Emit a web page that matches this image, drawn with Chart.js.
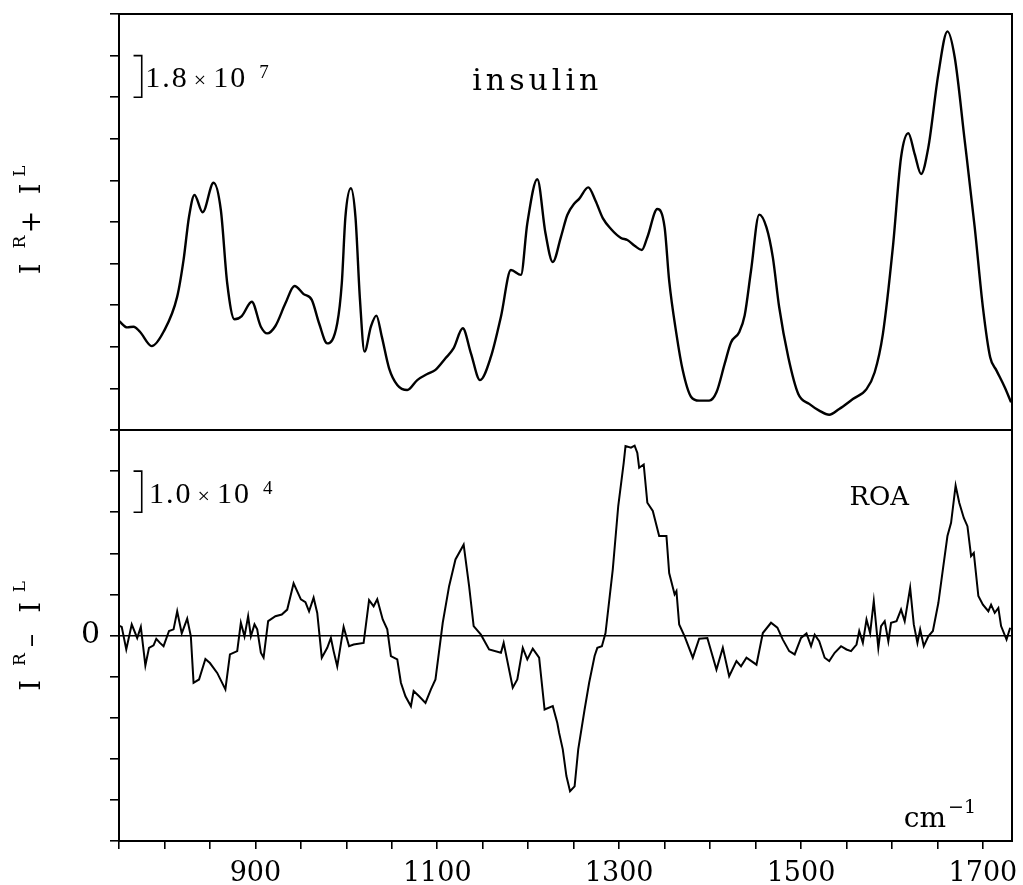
<!DOCTYPE html>
<html>
<head>
<meta charset="utf-8">
<title>insulin ROA</title>
<script src="https://cdn.jsdelivr.net/npm/chart.js@4.4.1/dist/chart.umd.min.js"></script>
<style>
html, body { margin: 0; padding: 0; background: #fff; }
canvas { display: block; }
</style>
</head>
<body>
<canvas id="roa" width="1023" height="885"></canvas>
<script>
// backscattered Raman I^R + I^L of insulin (units of 10^7)
var sumWavenumber = [750, 759, 766, 773, 786, 799, 814, 821, 827, 833, 842, 854, 862, 869, 877, 885, 896, 906, 913, 922,
  933, 943, 953, 962, 970, 979, 990, 995, 999, 1005, 1010, 1015, 1020, 1027, 1033, 1039, 1047, 1056, 1067, 1078,
  1089, 1098, 1109, 1118, 1128, 1137, 1147, 1159, 1170, 1181, 1192, 1199, 1210, 1219, 1227, 1236, 1243, 1251, 1256, 1266,
  1274, 1282, 1291, 1302, 1309, 1317, 1325, 1331, 1342, 1350, 1355, 1363, 1370, 1379, 1388, 1399, 1407, 1416, 1423, 1432,
  1438, 1445, 1454, 1462, 1469, 1476, 1486, 1497, 1509, 1520, 1531, 1542, 1557, 1572, 1581, 1590, 1601, 1610, 1618, 1625,
  1632, 1640, 1651, 1661, 1669, 1680, 1691, 1700, 1708, 1715, 1724, 1731];
var sumIntensity = [4.72, 4.44, 4.47, 4.25, 3.63, 4.25, 5.77, 7.36, 9.23, 10.17, 9.42, 10.70, 9.52, 6.35, 4.79, 4.93, 5.55, 4.47, 4.18, 4.50,
  5.48, 6.23, 5.88, 5.63, 4.62, 3.75, 4.62, 6.35, 9.23, 10.46, 9.23, 5.63, 3.39, 4.47, 4.95, 4.04, 2.67, 1.95, 1.73, 2.16,
  2.42, 2.60, 3.10, 3.54, 4.40, 3.32, 2.16, 3.17, 4.90, 6.92, 6.71, 8.94, 10.85, 8.51, 7.27, 8.36, 9.30, 9.81, 10.00, 10.50,
  9.92, 9.17, 8.70, 8.31, 8.22, 7.97, 7.79, 8.34, 9.56, 8.77, 6.46, 4.15, 2.57, 1.44, 1.27, 1.27, 1.63, 2.86, 3.79, 4.23,
  4.95, 6.89, 9.32, 8.77, 7.47, 5.31, 3.15, 1.56, 1.13, 0.84, 0.66, 0.91, 1.34, 1.77, 2.50, 4.15, 7.91, 11.80, 12.84, 11.94,
  11.08, 12.23, 15.40, 17.25, 16.13, 12.52, 8.77, 5.31, 3.15, 2.57, 1.85, 1.20];

// ROA I^R - I^L (units of 10^4)
var roaWavenumber = [750, 753, 758, 764, 770, 774, 779, 783, 788, 791, 795, 799, 805, 810, 814, 819, 825, 829, 832, 838,
  845, 850, 858, 867, 872, 880, 884, 888, 892, 895, 899, 902, 906, 909, 914, 922, 929, 935, 942, 950,
  955, 959, 964, 968, 973, 979, 983, 986, 990, 997, 1003, 1008, 1019, 1025, 1030, 1034, 1040, 1045, 1049, 1056,
  1060, 1065, 1071, 1074, 1080, 1087, 1093, 1098, 1106, 1113, 1120, 1129, 1135, 1140, 1148, 1157, 1170, 1173, 1183, 1188,
  1194, 1199, 1205, 1212, 1218, 1227, 1232, 1234, 1238, 1242, 1246, 1251, 1255, 1262, 1267, 1273, 1276, 1281, 1285, 1293,
  1299, 1305, 1307, 1313, 1317, 1320, 1322, 1327, 1331, 1337, 1344, 1352, 1355, 1361, 1363, 1366, 1372, 1381, 1388, 1397,
  1407, 1414, 1421, 1429, 1434, 1440, 1451, 1458, 1467, 1474, 1480, 1487, 1493, 1500, 1506, 1511, 1515, 1520, 1526, 1531,
  1537, 1544, 1550, 1555, 1561, 1564, 1568, 1572, 1576, 1580, 1585, 1588, 1592, 1596, 1599, 1605, 1610, 1614, 1620, 1624,
  1628, 1631, 1635, 1640, 1645, 1651, 1656, 1661, 1665, 1670, 1674, 1679, 1683, 1687, 1690, 1695, 1700, 1706, 1709, 1713,
  1717, 1720, 1726, 1730];
var roaIntensity = [0.24, 0.21, -0.34, 0.27, -0.06, 0.21, -0.73, -0.30, -0.24, -0.08, -0.18, -0.26, 0.11, 0.15, 0.59, 0.05, 0.41, -0.02, -1.15, -1.07,
  -0.57, -0.67, -0.91, -1.31, -0.46, -0.38, 0.31, -0.02, 0.47, -0.02, 0.27, 0.15, -0.42, -0.54, 0.35, 0.47, 0.51, 0.63, 1.27, 0.88,
  0.81, 0.59, 0.92, 0.55, -0.54, -0.30, -0.06, -0.38, -0.75, 0.21, -0.26, -0.22, -0.18, 0.86, 0.71, 0.88, 0.39, 0.15, -0.50, -0.58,
  -1.15, -1.48, -1.72, -1.35, -1.48, -1.64, -1.31, -1.07, 0.31, 1.20, 1.85, 2.21, 1.20, 0.23, 0.02, -0.34, -0.42, -0.18, -1.27, -1.07,
  -0.30, -0.58, -0.32, -0.54, -1.80, -1.72, -2.13, -2.37, -2.77, -3.42, -3.79, -3.67, -2.77, -1.80, -1.15, -0.50, -0.30, -0.26, 0.06, 1.61,
  3.15, 4.20, 4.61, 4.57, 4.62, 4.44, 4.08, 4.16, 3.23, 3.03, 2.42, 2.42, 1.52, 1.00, 1.08, 0.27, -0.02, -0.54, -0.08, -0.06,
  -0.83, -0.30, -0.99, -0.62, -0.75, -0.54, -0.71, 0.06, 0.31, 0.19, -0.10, -0.38, -0.46, -0.06, 0.05, -0.26, 0.02, -0.14, -0.54, -0.62,
  -0.42, -0.26, -0.34, -0.38, -0.22, 0.11, -0.18, 0.39, 0.06, 0.84, -0.30, 0.23, 0.35, -0.14, 0.31, 0.35, 0.63, 0.35, 1.16, 0.27,
  -0.18, 0.15, -0.26, -0.02, 0.11, 0.79, 1.61, 2.42, 2.74, 3.65, 3.23, 2.86, 2.66, 1.93, 2.01, 0.96, 0.75, 0.59, 0.75, 0.55,
  0.67, 0.23, -0.10, 0.19];

var xLabelTicks = [900, 1100, 1300, 1500, 1700];
var sumTicks = [0, 1.8, 3.6, 5.4, 7.2, 9, 10.8, 12.6, 14.4, 16.2, 18];
var roaTicks = [-5, -4, -3, -2, -1, 0, 1, 2, 3, 4, 5];

var SERIF = '"DejaVu Serif", serif';
var TIMES = '"Liberation Serif", serif';

function toPoints(xs, ys) {
  return xs.map(function (x, i) { return { x: x, y: ys[i] }; });
}

// draw a row of text pieces; each piece may have a gap before it and a rise (superscript)
function textRun(ctx, pieces, x, y) {
  var cx = x;
  pieces.forEach(function (p) {
    ctx.font = p.size + 'px ' + (p.family || TIMES);
    cx += p.gap || 0;
    ctx.fillText(p.t, cx, y - (p.rise || 0));
    cx += ctx.measureText(p.t).width;
  });
}

// rotated axis title, pieces centred at given offsets along the axis
function axisTitle(ctx, pieces, x, cy) {
  ctx.save();
  ctx.translate(x, cy);
  ctx.rotate(-Math.PI / 2);
  ctx.textAlign = 'center';
  pieces.forEach(function (p) {
    ctx.font = p.size + 'px ' + SERIF;
    ctx.fillText(p.t, p.at, -(p.rise || 0));
  });
  ctx.restore();
}

function bracket(ctx, xs, ys, v0, v1) {
  var xa = xs.getPixelForValue(766), xb = xs.getPixelForValue(775);
  var ya = ys.getPixelForValue(v0), yb = ys.getPixelForValue(v1);
  ctx.beginPath();
  ctx.moveTo(xa, ya); ctx.lineTo(xb, ya); ctx.lineTo(xb, yb); ctx.lineTo(xa, yb);
  ctx.stroke();
  return (ya + yb) / 2;
}

function scaleText(exp) {
  return [
    { t: exp[0], size: 30 },
    { t: '\u00d7', size: 22, gap: 5 },
    { t: '10', size: 30, gap: 5 },
    { t: exp[1], size: 19, rise: 9, gap: 12 }
  ];
}

var decorations = {
  id: 'decorations',
  afterDraw: function (chart) {
    var ctx = chart.ctx, a = chart.chartArea;
    var xs = chart.scales.x, top = chart.scales.ySum, bot = chart.scales.yRoa;
    ctx.save();
    ctx.strokeStyle = '#000';
    ctx.fillStyle = '#000';

    // frame and panel divider
    ctx.lineWidth = 2;
    ctx.strokeRect(a.left, a.top, a.right - a.left, a.bottom - a.top);
    ctx.beginPath();
    ctx.moveTo(a.left, top.bottom);
    ctx.lineTo(a.right, top.bottom);
    ctx.stroke();

    // intensity scale bars
    ctx.lineWidth = 1.6;
    ctx.textAlign = 'left';
    ctx.textBaseline = 'alphabetic';
    ctx.letterSpacing = '2px';
    var m1 = bracket(ctx, xs, top, 16.2, 14.4);
    textRun(ctx, scaleText(['1.8', '7']), xs.getPixelForValue(779), m1 + 11);
    var m2 = bracket(ctx, xs, bot, 4, 3);
    textRun(ctx, scaleText(['1.0', '4']), xs.getPixelForValue(783), m2 + 11);

    // panel labels
    ctx.textAlign = 'center';
    ctx.font = '30px ' + SERIF;
    ctx.letterSpacing = '4px';
    ctx.fillText('insulin', xs.getPixelForValue(1210), top.getPixelForValue(14.7));
    ctx.letterSpacing = '0px';
    ctx.font = '26px ' + SERIF;
    ctx.fillText('ROA', xs.getPixelForValue(1586), bot.getPixelForValue(3.18));

    ctx.textAlign = 'left';
    textRun(ctx, [
      { t: 'cm', size: 28, family: SERIF },
      { t: '\u22121', size: 19, family: SERIF, rise: 14, gap: 2 }
    ], xs.getPixelForValue(1613), bot.getPixelForValue(-4.66));

    // y titles
    axisTitle(ctx, [
      { t: 'I', size: 27, at: -47 },
      { t: 'R', size: 17, at: -20, rise: 15 },
      { t: '+', size: 27, at: 0 },
      { t: 'I', size: 27, at: 33 },
      { t: 'L', size: 17, at: 51, rise: 15 }
    ], 40, (top.top + top.bottom) / 2);
    axisTitle(ctx, [
      { t: 'I', size: 27, at: -50 },
      { t: 'R', size: 17, at: -24, rise: 15 },
      { t: '\u2013', size: 27, at: -5 },
      { t: 'I', size: 27, at: 28 },
      { t: 'L', size: 17, at: 49, rise: 15 }
    ], 40, (bot.top + bot.bottom) / 2);
    ctx.restore();
  }
};

function noPadding(s) {
  s.paddingTop = 0; s.paddingBottom = 0; s.paddingLeft = 0; s.paddingRight = 0;
}

function fixedTicks(values) {
  return function (s) { s.ticks = values.map(function (v) { return { value: v }; }); };
}

new Chart(document.getElementById('roa'), {
  type: 'line',
  data: {
    datasets: [
      {
        label: 'I^R + I^L',
        data: toPoints(sumWavenumber, sumIntensity),
        yAxisID: 'ySum',
        borderColor: '#000',
        borderWidth: 2.4,
        pointRadius: 0,
        cubicInterpolationMode: 'monotone',
        fill: false
      },
      {
        label: 'I^R - I^L',
        data: toPoints(roaWavenumber, roaIntensity),
        yAxisID: 'yRoa',
        borderColor: '#000',
        borderWidth: 2,
        pointRadius: 0,
        tension: 0,
        fill: false
      }
    ]
  },
  options: {
    responsive: false,
    animation: false,
    devicePixelRatio: 1,
    layout: { padding: { top: 14, right: 11, left: 0, bottom: 0 } },
    plugins: { legend: { display: false }, tooltip: { enabled: false } },
    scales: {
      x: {
        type: 'linear',
        min: 750,
        max: 1732,
        border: { display: false },
        grid: { drawOnChartArea: false, drawTicks: true, tickLength: 8, color: '#000', lineWidth: 1.6 },
        ticks: {
          stepSize: 50,
          includeBounds: false,
          autoSkip: false,
          maxRotation: 0,
          padding: 9,
          color: '#000',
          font: { family: SERIF, size: 27 },
          callback: function (v) { return xLabelTicks.indexOf(v) >= 0 ? String(v) : ''; }
        },
        afterFit: function (s) { s.height = 44; noPadding(s); }
      },
      yRoa: {
        type: 'linear',
        position: 'left',
        stack: 'panels',
        stackWeight: 411,
        min: -5,
        max: 5,
        border: { display: false },
        grid: {
          drawOnChartArea: true,
          drawTicks: true,
          tickLength: 9,
          lineWidth: 1.6,
          tickColor: '#000',
          color: function (c) { return c.tick && c.tick.value === 0 ? '#000' : 'rgba(0,0,0,0)'; }
        },
        afterBuildTicks: fixedTicks(roaTicks),
        ticks: {
          autoSkip: false,
          padding: 10,
          color: '#000',
          font: { family: SERIF, size: 30 },
          callback: function (v) { return v === 0 ? '0' : ''; }
        },
        afterFit: function (s) { s.width = 119; noPadding(s); }
      },
      ySum: {
        type: 'linear',
        position: 'left',
        stack: 'panels',
        stackWeight: 416,
        min: 0,
        max: 18,
        border: { display: false },
        grid: { drawOnChartArea: false, drawTicks: true, tickLength: 9, color: '#000', lineWidth: 1.6 },
        afterBuildTicks: fixedTicks(sumTicks),
        ticks: {
          autoSkip: false,
          color: '#000',
          callback: function () { return ''; }
        },
        afterFit: function (s) { s.width = 119; noPadding(s); }
      }
    }
  },
  plugins: [decorations]
});
</script>
</body>
</html>
